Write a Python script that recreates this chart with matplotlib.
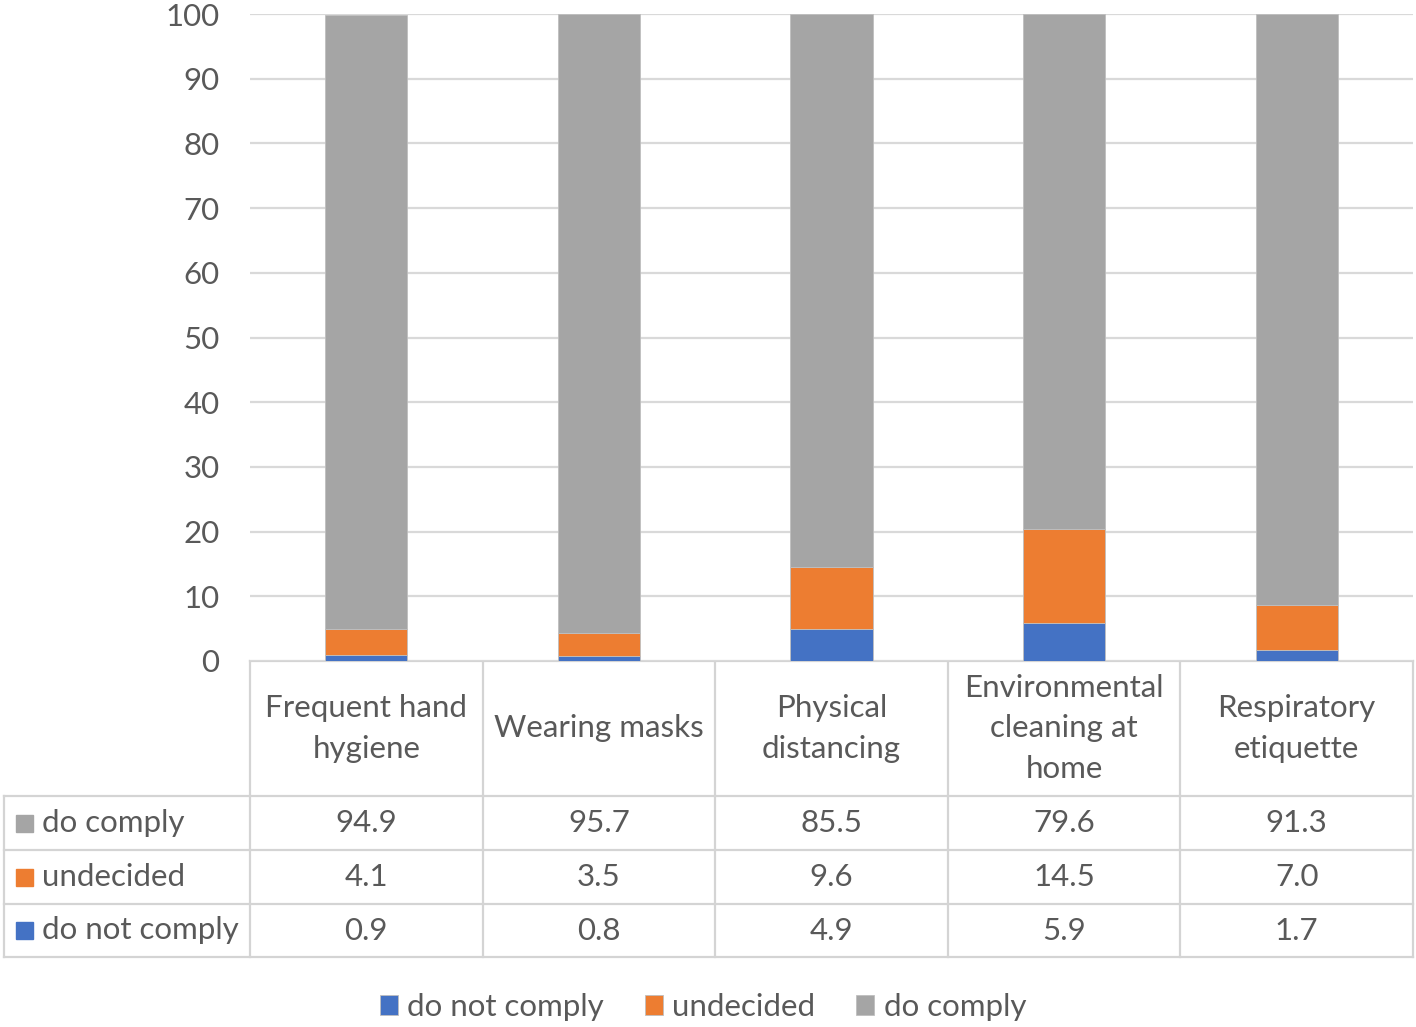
import matplotlib
matplotlib.use("Agg")
import matplotlib.pyplot as plt
from matplotlib.patches import Rectangle

categories = ["Frequent hand\nhygiene", "Wearing masks", "Physical\ndistancing",
              "Environmental\ncleaning at\nhome", "Respiratory\netiquette"]
do_not_comply = [0.9, 0.8, 4.9, 5.9, 1.7]
undecided = [4.1, 3.5, 9.6, 14.5, 7.0]
do_comply = [94.9, 95.7, 85.5, 79.6, 91.3]
yticks = [0, 10, 20, 30, 40, 50, 60, 70, 80, 90, 100]

C_BLUE = "#4472C4"
C_ORANGE = "#ED7D31"
C_GRAY = "#A5A5A5"
TXT = "#595959"
GRID = "#D9D9D9"
FONT = "Lato"
FS = 22.5

plt.rcParams["font.family"] = [FONT, "DejaVu Sans"]

W, H = 1416, 1027
fig = plt.figure(figsize=(W / 100, H / 100), dpi=100)

# plot area in pixels
px0, px1, py_top, py_bot = 250, 1413, 14, 661
ax = fig.add_axes([px0 / W, 1 - py_bot / H, (px1 - px0) / W, (py_bot - py_top) / H])
n = len(categories)
xs = list(range(n))
bw = 0.353
edge = dict(edgecolor="#BFBFBF", linewidth=0.6)
b1 = ax.bar(xs, do_not_comply, bw, color=C_BLUE, zorder=3, **edge)
bottom2 = do_not_comply
b2 = ax.bar(xs, undecided, bw, bottom=bottom2, color=C_ORANGE, zorder=3, **edge)
bottom3 = [a + b for a, b in zip(do_not_comply, undecided)]
b3 = ax.bar(xs, do_comply, bw, bottom=bottom3, color=C_GRAY, zorder=3, **edge)
ax.set_xlim(-0.5, n - 0.5)
ax.set_ylim(0, 100)
ax.set_yticks(yticks)
ax.set_yticklabels([str(t) for t in yticks], fontsize=FS, color=TXT)
ax.tick_params(axis="y", length=0, pad=22)
ax.set_xticks([])
for s in ax.spines.values():
    s.set_visible(False)
ax.grid(axis="y", color=GRID, linewidth=1.6, zorder=0)
ax.set_axisbelow(True)

# overlay in pixel coordinates for the data table
ov = fig.add_axes([0, 0, 1, 1], zorder=-1)
ov.set_xlim(0, W)
ov.set_ylim(H, 0)
ov.axis("off")
LC = "#D4D4D4"
LW = 1.6
colw = (px1 - px0) / n
bounds = [px0 + i * colw for i in range(n + 1)]
row_y = [661, 796, 850, 904, 957]
left_x = 4
# horizontal lines
ov.plot([px0, px1], [row_y[0], row_y[0]], color=LC, lw=LW)
for y in row_y[1:]:
    ov.plot([left_x, px1], [y, y], color=LC, lw=LW)
# vertical lines
for x in bounds:
    ov.plot([x, x], [row_y[0], row_y[-1]], color=LC, lw=LW)
ov.plot([left_x, left_x], [row_y[1], row_y[-1]], color=LC, lw=LW)

# category labels
for i, c in enumerate(categories):
    cx = (bounds[i] + bounds[i + 1]) / 2
    ov.text(cx, (row_y[0] + row_y[1]) / 2 + 0, c, ha="center", va="center",
            fontsize=FS, color=TXT, linespacing=1.55)

series = [("do comply", do_comply, C_GRAY), ("undecided", undecided, C_ORANGE),
          ("do not comply", do_not_comply, C_BLUE)]
for r, (name, vals, col) in enumerate(series):
    y0, y1 = row_y[r + 1], row_y[r + 2]
    cy = (y0 + y1) / 2
    ov.add_patch(Rectangle((16, cy - 8.5), 17, 17, color=col))
    ov.text(42, cy, name, ha="left", va="center", fontsize=FS, color=TXT)
    for i, v in enumerate(vals):
        cx = (bounds[i] + bounds[i + 1]) / 2
        ov.text(cx, cy, f"{v:.1f}", ha="center", va="center", fontsize=FS, color=TXT)

# bottom legend
leg = fig.legend([b1, b2, b3], ["do not comply", "undecided", "do comply"],
                 loc="center", bbox_to_anchor=(703 / W, 1 - 1007 / H), ncol=3,
                 frameon=False, fontsize=FS, labelcolor=TXT,
                 handlelength=0.58, handleheight=0.58, handletextpad=0.3,
                 columnspacing=1.3)

fig.savefig("out.png", dpi=100, facecolor="white")
